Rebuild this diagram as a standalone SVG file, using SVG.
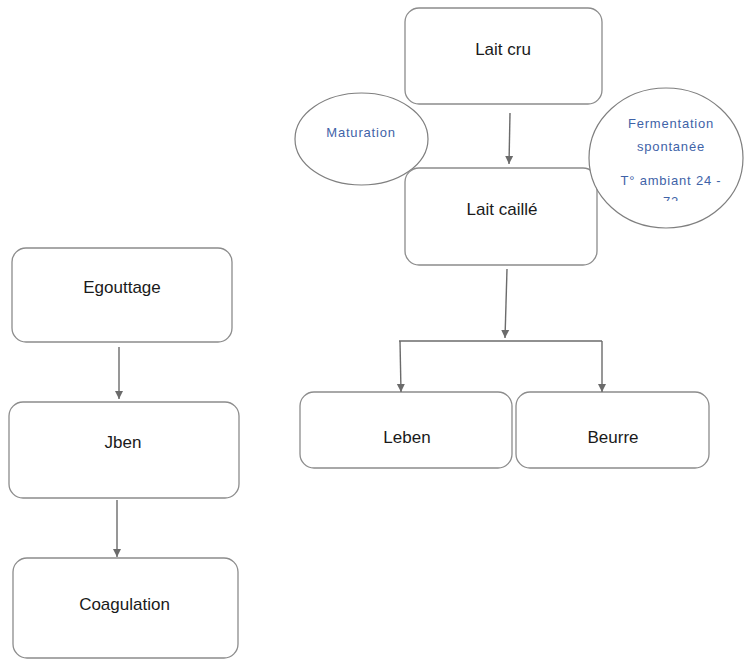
<svg xmlns="http://www.w3.org/2000/svg" width="744" height="660" viewBox="0 0 744 660">
<style>
.box{fill:#fff;stroke:#8c8c8c;stroke-width:1.3}
.ell{fill:#fff;stroke:#7f7f7f;stroke-width:1.2}
.t{font-family:"Liberation Sans",Arial,sans-serif;font-size:17px;fill:#1a1a1a;text-anchor:middle}
.b{font-family:"Liberation Sans",Arial,sans-serif;font-size:13px;fill:#3f63a8;text-anchor:middle;letter-spacing:0.8px}
.c{fill:none;stroke:#6b6b6b;stroke-width:1.4}
.ca{fill:none;stroke:#6b6b6b;stroke-width:1.4;marker-end:url(#ah)}
</style>
<defs>
<marker id="ah" viewBox="0 0 8 10" refX="8" refY="5" markerWidth="8" markerHeight="10" markerUnits="userSpaceOnUse" orient="auto">
<path d="M0,1 L8,5 L0,9 Z" fill="#6b6b6b"/>
</marker>
<clipPath id="clipF"><rect x="580" y="80" width="164" height="121"/></clipPath>
</defs>
<rect width="744" height="660" fill="#fff"/>
<g id="maturation">
<ellipse class="ell" cx="361.5" cy="139" rx="66.5" ry="46"/>
<text class="b" x="361" y="137">Maturation</text>
</g>
<g id="lait-cru">
<rect class="box" x="405" y="8" width="197" height="96" rx="14"/>
<text class="t" x="503" y="55">Lait cru</text>
</g>
<g id="lait-caille">
<rect class="box" x="405" y="168" width="192" height="97" rx="14"/>
<text class="t" x="502" y="215">Lait caillé</text>
</g>
<g id="fermentation">
<ellipse class="ell" cx="666" cy="158" rx="77" ry="70"/>
<text class="b" x="671" y="128">Fermentation</text>
<text class="b" x="671" y="151">spontanée</text>
<text class="b" x="671" y="185">T° ambiant 24 -</text>
<text class="b" x="671" y="206" clip-path="url(#clipF)">72</text>
</g>
<g id="leben">
<rect class="box" x="300" y="392" width="212" height="76" rx="14"/>
<text class="t" x="407" y="443">Leben</text>
</g>
<g id="beurre">
<rect class="box" x="516" y="392" width="193" height="76" rx="14"/>
<text class="t" x="613" y="443">Beurre</text>
</g>
<g id="egouttage">
<rect class="box" x="12" y="248" width="220" height="94" rx="14"/>
<text class="t" x="122" y="293">Egouttage</text>
</g>
<g id="jben">
<rect class="box" x="9" y="402" width="230" height="96" rx="14"/>
<text class="t" x="123" y="448">Jben</text>
</g>
<g id="coagulation">
<rect class="box" x="13" y="558" width="225" height="100" rx="14"/>
<text class="t" x="124.5" y="610">Coagulation</text>
</g>
<g id="connectors">
<line class="ca" x1="510" y1="113" x2="509" y2="164"/>
<line class="ca" x1="507" y1="269" x2="505" y2="338"/>
<polyline class="c" points="399,341 602,341"/>
<line class="ca" x1="400" y1="341" x2="401" y2="392"/>
<line class="ca" x1="602" y1="341" x2="602" y2="392"/>
<line class="ca" x1="119" y1="347" x2="119" y2="399"/>
<line class="ca" x1="117" y1="500" x2="117" y2="557"/>
</g>
</svg>
